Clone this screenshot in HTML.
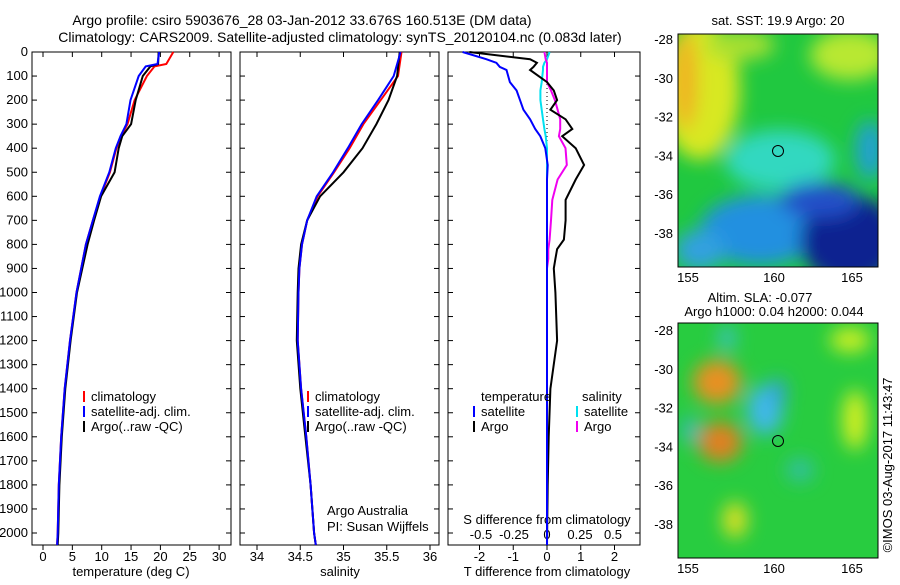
<!DOCTYPE html>
<html><head><meta charset="utf-8"><style>
body{margin:0;background:#fff;width:900px;height:580px;overflow:hidden;font-family:"Liberation Sans",sans-serif}
svg text{font-family:"Liberation Sans",sans-serif;font-size:13px;fill:#000}
</style></head><body>
<svg id="c" width="900" height="580">
<defs>
<filter id="bl" x="-50%" y="-50%" width="200%" height="200%"><feGaussianBlur stdDeviation="9"/></filter>
<clipPath id="m1"><rect x="678" y="34" width="200" height="233"/></clipPath>
<clipPath id="m2"><rect x="678" y="323" width="200" height="235"/></clipPath>
</defs>
<text x="302" y="25" text-anchor="middle" style="font-size:14px">Argo profile: csiro 5903676_28 03-Jan-2012 33.676S 160.513E (DM data)</text>
<text x="340" y="42" text-anchor="middle" style="font-size:14px">Climatology: CARS2009. Satellite-adjusted climatology: synTS_20120104.nc (0.083d later)</text>
<g id="plots"></g>
<g>
<text x="778" y="25" text-anchor="middle">sat. SST: 19.9 Argo: 20</text>
<g clip-path="url(#m1)">
<rect x="678" y="34" width="200" height="233" fill="#20c840"/>
<g filter="url(#bl)">
<ellipse cx="700" cy="90" rx="40" ry="70" fill="#d8e820"/>
<ellipse cx="685" cy="80" rx="12" ry="50" fill="#f0b020"/>
<ellipse cx="850" cy="55" rx="40" ry="25" fill="#b8e830"/>
<ellipse cx="740" cy="45" rx="35" ry="15" fill="#a8e030"/>
<ellipse cx="780" cy="160" rx="55" ry="30" fill="#30d8c0"/>
<ellipse cx="760" cy="230" rx="60" ry="35" fill="#2090e0"/>
<ellipse cx="700" cy="250" rx="25" ry="20" fill="#30a0e0"/>
<ellipse cx="850" cy="240" rx="50" ry="45" fill="#102090"/>
<ellipse cx="820" cy="200" rx="40" ry="18" fill="#2050c8"/>
<ellipse cx="870" cy="150" rx="15" ry="30" fill="#20a0d0"/>
</g>
</g>
<rect x="678" y="34" width="200" height="233" fill="none" stroke="#000"/>
<circle cx="778" cy="151" r="5.5" fill="none" stroke="#000"/>
</g>
<g>
<text x="760" y="302" text-anchor="middle">Altim. SLA: -0.077</text>
<text x="774" y="316" text-anchor="middle">Argo h1000: 0.04 h2000: 0.044</text>
<g clip-path="url(#m2)">
<rect x="678" y="323" width="200" height="235" fill="#28cc40"/>
<g filter="url(#bl)">
<ellipse cx="717" cy="382" rx="24" ry="22" fill="#e89020"/>
<ellipse cx="720" cy="442" rx="22" ry="20" fill="#e08020"/>
<ellipse cx="765" cy="410" rx="18" ry="25" fill="#40b8e8"/>
<ellipse cx="778" cy="392" rx="8" ry="14" fill="#30a0e0"/>
<ellipse cx="727" cy="338" rx="8" ry="12" fill="#40c0d0"/>
<ellipse cx="855" cy="420" rx="12" ry="30" fill="#d8f020"/>
<ellipse cx="850" cy="340" rx="20" ry="12" fill="#d0f020"/>
<ellipse cx="800" cy="470" rx="14" ry="12" fill="#30c0a0"/>
<ellipse cx="735" cy="520" rx="12" ry="18" fill="#e0e020"/>
<ellipse cx="690" cy="430" rx="8" ry="14" fill="#30b8c0"/>
</g>
</g>
<rect x="678" y="323" width="200" height="235" fill="none" stroke="#000"/>
<circle cx="778" cy="441" r="5.5" fill="none" stroke="#000"/>
</g>
<text transform="translate(892,465) rotate(-90)" text-anchor="middle">©IMOS 03-Aug-2017 11:43:47</text>
</svg>
<script>
// ---- data ----
const depthTemp=[0,50,60,100,200,300,350,400,500,600,700,800,900,1000,1200,1400,1600,1800,2000,2050];
const tempArgo=[19.7,19.6,18.3,17.0,15.8,15.0,13.5,12.9,12.2,9.9,8.7,7.6,6.7,5.8,4.7,3.8,3.2,2.8,2.6,2.5];
const tempClim=[22.2,21.0,19.0,17.7,15.6,14.4,13.3,12.5,11.4,9.8,8.5,7.3,6.5,5.7,4.6,3.7,3.1,2.7,2.5,2.4];
const tempSat=[19.8,19.5,17.5,16.3,14.9,14.2,13.2,12.4,11.3,9.7,8.5,7.3,6.5,5.7,4.6,3.7,3.1,2.7,2.5,2.4];
const depthSal=[0,100,200,300,400,500,600,700,800,900,1000,1200,1400,1600,1800,2000,2050];
const salArgo=[35.65,35.62,35.52,35.38,35.22,35.00,34.73,34.58,34.51,34.48,34.47,34.46,34.50,34.56,34.62,34.66,34.68];
const salClim=[35.67,35.63,35.43,35.23,35.07,34.89,34.70,34.58,34.52,34.49,34.48,34.47,34.51,34.57,34.62,34.66,34.68];
const salSat=[35.66,35.58,35.40,35.21,35.05,34.88,34.69,34.58,34.52,34.49,34.48,34.47,34.51,34.57,34.62,34.66,34.68];
const depthDiff=[0,30,45,62,75,125,160,200,240,280,320,350,400,470,530,615,700,780,820,860,900,1000,1200,1400,1600,1800,2050];
const dTSat=[-2.5,-1.8,-1.5,-1.4,-1.2,-1.1,-0.9,-0.8,-0.7,-0.5,-0.35,-0.2,-0.05,0.02,0,0,0,0,0,0,0,0,0,0,0,0,0];
const dTArgo=[-2.3,-0.5,-0.3,-0.4,-0.5,0,0.2,0.3,0.1,0.55,0.75,0.45,0.85,1.1,0.85,0.55,0.55,0.5,0.3,0.25,0.2,0.25,0.3,0.1,0.05,0.02,0.0];
const dSArgo=[-0.02,-0.01,0,0,0,0,0.03,0.06,0.08,0.1,0.1,0.09,0.14,0.15,0.08,0.04,0.03,0.02,0.01,0.01,0,0,0,0,0,0,0];
const dSSat=[0.02,0,-0.02,-0.03,-0.03,-0.04,-0.05,-0.05,-0.04,-0.03,-0.02,-0.01,0,0,0,0,0,0,0,0,0,0,0,0,0,0,0];
const depthTicks=[0,100,200,300,400,500,600,700,800,900,1000,1100,1200,1300,1400,1500,1600,1700,1800,1900,2000];
const tempTicks=[0,5,10,15,20,25,30];
const salTicks=[34,34.5,35,35.5,36];
const salTickLabels=["34","34.5","35","35.5","36"];
const tdTicks=[-2,-1,0,1,2];
const sdTicks=[-0.5,-0.25,0,0.25,0.5];
// ---- axes ----
const yTop=52,yBot=545;
const yD=d=>yTop+d*0.2405;
const xT=t=>43+5.87*t, xS=s=>257+86.5*(s-34), xdT=v=>547+33.75*v, xdS=v=>547+132*v;
const panels=[[32,231],[240,439],[448,640]];
const NS="http://www.w3.org/2000/svg", g=document.getElementById('plots');
function el(t,a,txt){const e=document.createElementNS(NS,t);for(const k in a)e.setAttribute(k,a[k]);if(txt!=null)e.textContent=txt;g.appendChild(e);return e;}
panels.forEach((p,i)=>{const r=el('rect',{x:p[0],y:yTop,width:p[1]-p[0],height:yBot-yTop,fill:'none',stroke:'#000'});


depthTicks.forEach(d=>{const y=yD(d);el('line',{x1:p[0],x2:p[0]+5,y1:y,y2:y,stroke:'#000'});el('line',{x1:p[1],x2:p[1]-5,y1:y,y2:y,stroke:'#000'});});});
depthTicks.forEach(d=>{const t=el('text',{x:28,y:yD(d)+4,'text-anchor':'end'},d);

});
function xticks(arr,fx,labels,ly){arr.forEach((v,i)=>{const x=fx(v);el('line',{x1:x,x2:x,y1:yTop,y2:yTop+5,stroke:'#000'});el('line',{x1:x,x2:x,y1:yBot,y2:yBot+5,stroke:'#000'});
const t=el('text',{x:x,y:ly,'text-anchor':'middle'},labels?labels[i]:v);

});}
xticks(tempTicks,xT,null,561);
xticks(salTicks,xS,salTickLabels,561);
xticks(tdTicks,xdT,null,561);
sdTicks.forEach(v=>{const t=el('text',{x:xdS(v),y:539,'text-anchor':'middle'},v);

});
[[131,'temperature (deg C)'],[340,'salinity'],[547,'T difference from climatology']].forEach(a=>{const t=el('text',{x:a[0],y:576,'text-anchor':'middle'},a[1]);

});
el('text',{x:547,y:524,'text-anchor':'middle'},'S difference from climatology');
el('text',{x:327,y:515},'Argo Australia');
el('text',{x:327,y:531},'PI: Susan Wijffels');
el('line',{x1:547,x2:547,y1:yTop,y2:150,stroke:'#000','stroke-dasharray':'1,3'});
function line(ds,vs,fx,col,name,w){const pts=ds.map((d,i)=>fx(vs[i]).toFixed(1)+','+yD(d).toFixed(1)).join(' ');
const e=el('polyline',{points:pts,fill:'none',stroke:col,'stroke-width':w||2});

}
line(depthTemp,tempClim,xT,'#f00','temp-climatology');
line(depthTemp,tempArgo,xT,'#000','temp-argo');
line(depthTemp,tempSat,xT,'#00f','temp-satellite');
line(depthSal,salClim,xS,'#f00','sal-climatology');
line(depthSal,salArgo,xS,'#000','sal-argo');
line(depthSal,salSat,xS,'#00f','sal-satellite');
line(depthDiff,dSSat,xdS,'#00e0f0','sdiff-satellite');
line(depthDiff,dSArgo,xdS,'#f000f0','sdiff-argo');
line(depthDiff,dTArgo,xdT,'#000','tdiff-argo');
line(depthDiff,dTSat,xdT,'#00f','tdiff-satellite');
function leg(x,y,col,txt){el('line',{x1:x,x2:x,y1:y-10,y2:y+1,stroke:col,'stroke-width':2});
const t=el('text',{x:x+7,y:y},txt);

}
leg(84,401,'#f00','climatology');leg(308,401,'#f00','climatology');
leg(84,416,'#00f','satellite-adj. clim.');leg(84,431,'#000','Argo(..raw -QC)');
leg(308,416,'#00f','satellite-adj. clim.');leg(308,431,'#000','Argo(..raw -QC)');
el('text',{x:481,y:401},'temperature');el('text',{x:582,y:401},'salinity');
leg(474,416,'#00f','satellite');leg(474,431,'#000','Argo');
leg(577,416,'#00e0f0','satellite');leg(577,431,'#f000f0','Argo');
function mapAxes(y0,h,latTop){const lon=[155,160,165],lx=[688,774,852];
lon.forEach((v,i)=>{el('line',{x1:lx[i],x2:lx[i],y1:y0,y2:y0+4,stroke:'#000'});el('line',{x1:lx[i],x2:lx[i],y1:y0+h,y2:y0+h-4,stroke:'#000'});
const t=el('text',{x:lx[i],y:y0+h+15,'text-anchor':'middle'},v);

});
[-28,-30,-32,-34,-36,-38].forEach((v,i)=>{const y=latTop+i*38.8;el('line',{x1:678,x2:682,y1:y,y2:y,stroke:'#000'});el('line',{x1:878,x2:874,y1:y,y2:y,stroke:'#000'});
const t=el('text',{x:673,y:y+4,'text-anchor':'end'},v);

});}
mapAxes(34,233,40);
mapAxes(323,235,331);
</script>
</body></html>
